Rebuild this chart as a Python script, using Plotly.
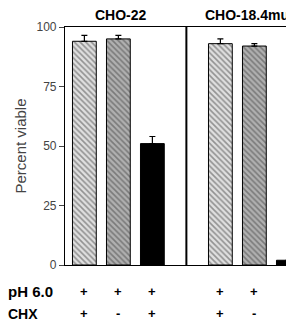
import plotly.graph_objects as go

positions = [0, 1, 2, 4, 5, 6]
values = [94, 95, 51, 93, 92, 2]
errors = [2.5, 1.5, 3, 2, 1, 0]
ph_row = ["+", "+", "+", "+", "+", "+"]
chx_row = ["+", "-", "+", "+", "-", "+"]
group_titles = ["CHO-22", "CHO-18.4mut"]
group_title_x = [1.07, 3.49]
group_title_anchor = ["center", "left"]
yticks = [0, 25, 50, 75, 100]

fills = ["#e0e0e0", "#b0b0b0", "black", "#e0e0e0", "#b0b0b0", "black"]
fg = ["#555555", "#222222", "black", "#555555", "#222222", "black"]
shapes_p = ["\\", "\\", "", "\\", "\\", ""]

fig = go.Figure()
fig.add_trace(go.Bar(
    x=positions, y=values, width=0.7,
    marker=dict(color=fills, line=dict(color="black", width=1),
                pattern=dict(shape=shapes_p, fgcolor=fg, size=4, solidity=0.4)),
    error_y=dict(type="data", array=errors, arrayminus=[0]*6, symmetric=False,
                 color="black", thickness=1.2, width=3),
    showlegend=False, cliponaxis=False,
))

font = "Liberation Sans, Arial, sans-serif"
ann = []
for p, a, b in zip(positions, ph_row, chx_row):
    ann.append(dict(x=p, y=-0.113, xref="x", yref="paper", yanchor="middle",
                    text="<b>%s</b>" % a, showarrow=False,
                    font=dict(size=13, color="black", family=font)))
    ann.append(dict(x=p, y=-0.205, xref="x", yref="paper", yanchor="middle",
                    text="<b>%s</b>" % b, showarrow=False,
                    font=dict(size=13, color="black", family=font)))
ann.append(dict(x=-0.265, y=-0.113, xref="paper", yref="paper", yanchor="middle",
                text="<b>pH 6.0</b>", xanchor="left", showarrow=False,
                font=dict(size=15, color="black", family=font)))
ann.append(dict(x=-0.265, y=-0.205, xref="paper", yref="paper", yanchor="middle",
                text="<b>CHX</b>", xanchor="left", showarrow=False,
                font=dict(size=14, color="black", family=font)))
for t, xx, anc in zip(group_titles, group_title_x, group_title_anchor):
    ann.append(dict(x=xx, y=1.05, xref="x", yref="paper", yanchor="middle", xanchor=anc,
                    text="<b>%s</b>" % t, showarrow=False,
                    font=dict(size=14, color="black", family=font)))

fig.update_layout(
    width=286, height=323,
    margin=dict(l=65, r=0, t=27, b=58),
    plot_bgcolor="white", paper_bgcolor="white",
    annotations=ann,
    shapes=[dict(type="line", x0=3, x1=3, y0=0, y1=100, xref="x", yref="y",
                 line=dict(color="black", width=2))],
    xaxis=dict(range=[-0.57, 5.93], showticklabels=False, ticks="", showgrid=False,
               zeroline=False, showline=True, linecolor="black", linewidth=1.2, mirror=True),
    yaxis=dict(range=[0, 100], tickvals=yticks, ticks="outside", ticklen=5,
               tickcolor="#444", showgrid=False, zeroline=False, showline=True,
               linecolor="black", linewidth=1.2,
               tickfont=dict(size=12, color="#444", family=font),
               title=dict(text="Percent viable", font=dict(size=15, color="#444", family=font),
                          standoff=6)),
)
fig.write_html("out.html")
